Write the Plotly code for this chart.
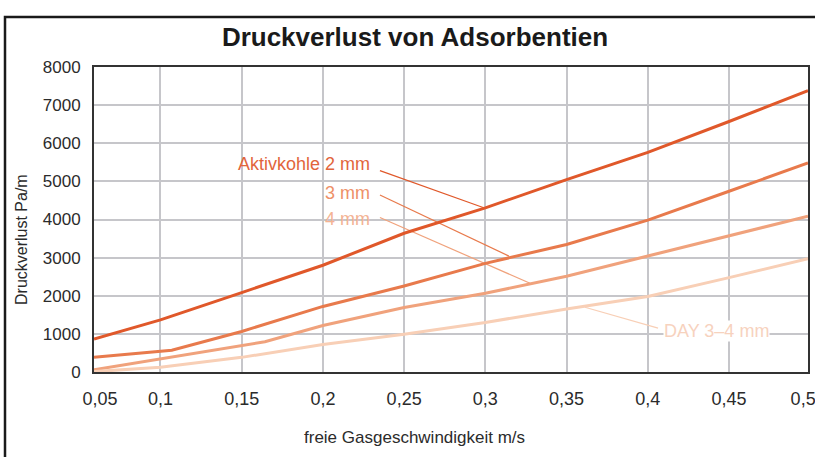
import plotly.graph_objects as go

# ---- data (x in axis units; left edge labelled 0,05, right edge labelled 0,5) ----
x_akt = [0.0591, 0.1, 0.15, 0.2, 0.25, 0.3, 0.35, 0.4, 0.45, 0.4986]
y_akt = [863, 1367, 2084, 2800, 3640, 4306, 5046, 5760, 6570, 7380]

x_3mm = [0.0591, 0.107, 0.15, 0.2, 0.25, 0.3, 0.35, 0.4, 0.45, 0.4986]
y_3mm = [384, 570, 1064, 1720, 2257, 2850, 3346, 3983, 4741, 5482]

x_4mm = [0.0591, 0.1, 0.15, 0.1643, 0.2, 0.25, 0.3, 0.35, 0.4, 0.45, 0.4986]
y_4mm = [60, 340, 688, 792, 1220, 1691, 2065, 2510, 3041, 3564, 4086]

x_day = [0.0591, 0.1, 0.15, 0.2, 0.25, 0.3, 0.35, 0.4, 0.45, 0.4986]
y_day = [10, 123, 384, 720, 993, 1299, 1655, 1979, 2476, 2972]

series_names = ["Aktivkohle 2 mm", "3 mm", "4 mm", "DAY 3–4 mm"]
series_colors = ["#E0582A", "#E87A4C", "#F0A27C", "#F8CFB6"]
label_colors = ["#E2653C", "#EE9068", "#F4B394", "#F7D2BE"]

# grid positions and tick labels
grid_x = [0.1, 0.15, 0.2, 0.25, 0.3, 0.35, 0.4, 0.45]
tick_x_pos = [0.0628, 0.1, 0.15, 0.2, 0.25, 0.3, 0.35, 0.4, 0.45, 0.4956]
tick_x_text = ["0,05", "0,1", "0,15", "0,2", "0,25", "0,3", "0,35", "0,4", "0,45", "0,5"]
tick_y = [0, 1000, 2000, 3000, 4000, 5000, 6000, 7000, 8000]
tick_y_text = ["0", "1000", "2000", "3000", "4000", "5000", "6000", "7000", "8000"]

x_range = [0.0591, 0.4986]
y_range = [0, 8000]

# label anchor points (text) and leader lines (start -> end on curve)
label_text_x = [0.2296, 0.2296, 0.2296, 0.4094]
label_text_y = [5464, 4706, 4026, 1072]
label_anchor = ["right", "right", "right", "left"]
leader_x0 = [0.2351, 0.2351, 0.2351, 0.3613]
leader_y0 = [5281, 4641, 4052, 1699]
leader_x1 = [0.2986, 0.3145, 0.3275, 0.4063]
leader_y1 = [4314, 3040, 2327, 1150]

FONT = "Liberation Sans, Arial, sans-serif"
TXT = "#2b2b2b"

fig = go.Figure()

# leader lines
for i in range(4):
    fig.add_trace(go.Scatter(
        x=[leader_x0[i], leader_x1[i]], y=[leader_y0[i], leader_y1[i]],
        mode="lines", line=dict(color=series_colors[i], width=1.2),
        hoverinfo="skip", showlegend=False))

all_x = [x_akt, x_3mm, x_4mm, x_day]
all_y = [y_akt, y_3mm, y_4mm, y_day]
for i in range(4):
    fig.add_trace(go.Scatter(
        x=all_x[i], y=all_y[i], mode="lines", name=series_names[i],
        line=dict(color=series_colors[i], width=3), showlegend=False))

# overlay axis for tick labels
fig.add_trace(go.Scatter(x=[x_range[0]], y=[0], xaxis="x2", mode="markers",
                         marker=dict(opacity=0), hoverinfo="skip", showlegend=False))

for i in range(4):
    fig.add_annotation(
        x=label_text_x[i], y=label_text_y[i], text=series_names[i],
        xanchor=label_anchor[i], yanchor="middle", showarrow=False,
        font=dict(family=FONT, size=18, color=label_colors[i]),
        bgcolor="white" if i == 3 else "rgba(0,0,0,0)", borderpad=0)

# axis titles
fig.add_annotation(x=(414 - 94) / 714, y=(372 - 437) / 305, xref="paper", yref="paper",
                   xanchor="center", yanchor="middle",
                   text="freie Gasgeschwindigkeit m/s", showarrow=False,
                   font=dict(family=FONT, size=17, color=TXT))
fig.add_annotation(x=(21 - 94) / 714, y=(372 - 240) / 305, xref="paper", yref="paper",
                   xanchor="center", yanchor="middle",
                   text="Druckverlust Pa/m", showarrow=False, textangle=-90,
                   font=dict(family=FONT, size=16, color=TXT))

# outer frame
fig.add_shape(type="rect", xref="paper", yref="paper",
              x0=(5 - 94) / 714, x1=(830 - 94) / 714,
              y0=(372 - 470) / 305, y1=(372 - 17) / 305,
              line=dict(color="#1a1a1a", width=2.5), layer="below")

fig.update_layout(
    width=815, height=457,
    margin=dict(l=94, r=7, t=67, b=85, autoexpand=False),
    paper_bgcolor="white", plot_bgcolor="white",
    title=dict(text="<b>Druckverlust von Adsorbentien</b>", x=415 / 815, xanchor="center",
               y=1 - 37 / 457, yanchor="middle",
               font=dict(family=FONT, size=26, color="#1a1a1a")),
    xaxis=dict(range=x_range, tickvals=grid_x, showticklabels=False, showgrid=True,
               gridcolor="#c6c6ca", gridwidth=1.5, zeroline=False, automargin=False,
               showline=True, linecolor="#333333", linewidth=2, mirror=True, ticks=""),
    xaxis2=dict(range=x_range, overlaying="x", side="bottom", tickvals=tick_x_pos,
                ticktext=tick_x_text, showgrid=False, zeroline=False, showline=False,
                ticks="", ticklabelstandoff=14, automargin=False,
                ticklabeloverflow="allow",
                tickfont=dict(family=FONT, size=18, color=TXT)),
    yaxis=dict(range=y_range, tickvals=tick_y, ticktext=tick_y_text, showgrid=True,
               gridcolor="#c6c6ca", gridwidth=1.5, zeroline=False, automargin=False,
               showline=True, linecolor="#333333", linewidth=2, mirror=True, ticks="",
               ticklabelstandoff=8,
               tickfont=dict(family=FONT, size=17, color=TXT)),
)

fig.write_html("out.html", config={"displayModeBar": False},
               post_script="document.body.style.margin='0';document.body.style.overflow='hidden';")
